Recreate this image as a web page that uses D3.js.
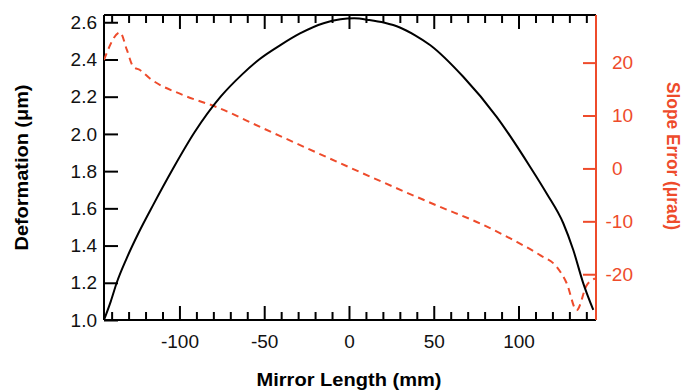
<!DOCTYPE html>
<html>
<head>
<meta charset="utf-8">
<script src="https://cdn.jsdelivr.net/npm/d3@7"></script>
<style>
  body { margin: 0; background: #fff; }
  text { font-family: "Liberation Sans", Arial, sans-serif; }
</style>
</head>
<body>
<svg id="chart" width="684" height="391"></svg>
<script>
// deformation (black, left axis)
var defX = [-144.5, -140.5, -137, -131.2, -124, -115.4, -104, -91, -75.7, -63, -53, -40, -28.9, -15, -5, 3, 12, 21, 30, 39, 47.8, 67.4, 87.1, 106.8, 116.6, 126.4, 132.3, 138.2, 144.1]
var defY = [1.0, 1.1, 1.2, 1.33, 1.47, 1.62, 1.81, 2.01, 2.2, 2.32, 2.40, 2.48, 2.54, 2.595, 2.616, 2.621, 2.612, 2.597, 2.572, 2.53, 2.478, 2.307, 2.092, 1.824, 1.68, 1.52, 1.376, 1.197, 1.054]

// slope error (red dashed, right axis)
var slopeX = [-144.5, -135, -131, -127.2, -123.3, -117.4, -97.8, -78.1, -50.5, 53.7, 77.3, 97, 112.7, 122.5, 128.4, 134.3, 140.2, 145.1]
var slopeY = [20.5, 25.7, 22.4, 19.2, 18.6, 17.0, 13.86, 11.6, 7.56, -7.26, -10.4, -13.55, -16.4, -18.6, -21.7, -26.8, -22.1, -20.8]

var xMajor = [-100, -50, 0, 50, 100]
var leftTicks = [1.0, 1.2, 1.4, 1.6, 1.8, 2.0, 2.2, 2.4, 2.6]
var rightTicks = [-20, -10, 0, 10, 20]

var red = '#ee4b2b'
var svg = d3.select('#chart')
var L = 104, R = 596, T = 15, B = 320

var x = d3.scaleLinear().domain([-144.5, 145.7]).range([L, R])
var y = d3.scaleLinear().domain([1.0, 2.639]).range([B, T])
var y2 = d3.scaleLinear().domain([-28.65, 29.0]).range([B, T])

var xMinor = d3.range(-140, 141, 10).filter(v => v % 50 !== 0)

// bottom axis
var gb = svg.append('g').attr('transform', `translate(0,${B})`)
gb.call(d3.axisBottom(x).tickValues(xMajor).tickSize(-14).tickPadding(15).tickFormat(d => String(d)))
gb.append('g').call(d3.axisBottom(x).tickValues(xMinor).tickSize(-8).tickFormat(''))

// top axis (mirror)
var gt = svg.append('g').attr('transform', `translate(0,${T})`)
gt.call(d3.axisTop(x).tickValues(xMajor).tickSize(-14).tickFormat(''))
gt.append('g').call(d3.axisTop(x).tickValues(xMinor).tickSize(-8).tickFormat(''))

// left axis
var gl = svg.append('g').attr('transform', `translate(${L},0)`)
gl.call(d3.axisLeft(y).tickValues(leftTicks).tickSize(-14).tickPadding(7).tickFormat(d => d.toFixed(1)))

// right axis, digits left aligned with the minus sign hanging out
var gr = svg.append('g').attr('transform', `translate(${R},0)`)
gr.call(d3.axisRight(y2).tickValues(rightTicks).tickSize(-13).tickPadding(16).tickFormat(d => String(d)))

svg.selectAll('.domain').attr('stroke-width', 2)
svg.selectAll('.tick line').attr('stroke-width', 2)
svg.selectAll('.tick text').attr('font-size', 19).attr('fill', '#111')
  .style('font-family', '"Liberation Sans", Arial, sans-serif')
gr.selectAll('.domain, .tick line').attr('stroke', red)
gr.selectAll('.tick text').attr('fill', red)
  .attr('dx', d => d < 0 ? -6.5 : 0)
gb.selectAll('.domain').attr('d', `M${L},0H${R}`)
gt.selectAll('.domain').attr('d', `M${L},0H${R}`)
gl.selectAll('.domain').attr('d', `M0,${B}V${T}`)
gr.selectAll('.domain').attr('d', `M0,${B}V${T}`)

svg.append('clipPath').attr('id', 'clip')
  .append('rect').attr('x', L).attr('y', T).attr('width', R - L).attr('height', B - T)

var defLine = d3.line().x(d => x(d[0])).y(d => y(d[1])).curve(d3.curveMonotoneX)
var slopeLine = d3.line().x(d => x(d[0])).y(d => y2(d[1])).curve(d3.curveMonotoneX)

svg.append('path')
  .datum(d3.zip(slopeX, slopeY))
  .attr('d', slopeLine)
  .attr('fill', 'none')
  .attr('stroke', red)
  .attr('stroke-width', 2)
  .attr('stroke-dasharray', '7,5')
  .attr('clip-path', 'url(#clip)')

svg.append('path')
  .datum(d3.zip(defX, defY))
  .attr('d', defLine)
  .attr('fill', 'none')
  .attr('stroke', '#000')
  .attr('stroke-width', 2)

// titles
svg.append('text')
  .attr('transform', 'translate(28,167.5) rotate(-90)')
  .attr('text-anchor', 'middle')
  .attr('font-size', 19).attr('font-weight', 'bold')
  .attr('textLength', 166).attr('lengthAdjust', 'spacingAndGlyphs')
  .text('Deformation (μm)')

svg.append('text')
  .attr('transform', 'translate(667,156) rotate(90)')
  .attr('text-anchor', 'middle')
  .attr('font-size', 19).attr('font-weight', 'bold')
  .attr('textLength', 148).attr('lengthAdjust', 'spacingAndGlyphs')
  .attr('fill', red)
  .text('Slope Error (μrad)')

svg.append('text')
  .attr('x', 349).attr('y', 386)
  .attr('text-anchor', 'middle')
  .attr('font-size', 18).attr('font-weight', 'bold')
  .attr('textLength', 185).attr('lengthAdjust', 'spacingAndGlyphs')
  .text('Mirror Length (mm)')
</script>
</body>
</html>
